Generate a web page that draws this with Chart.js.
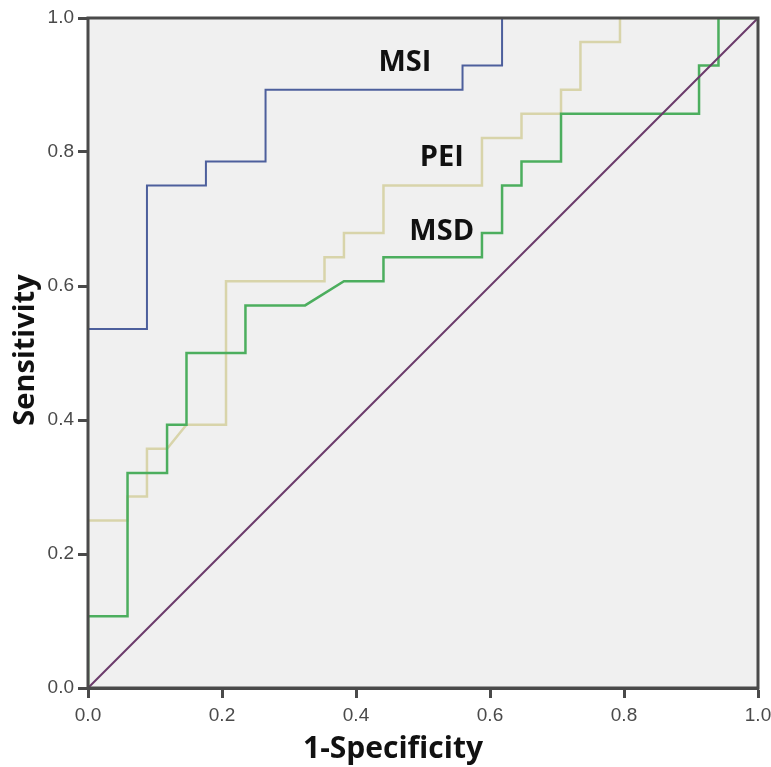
<!DOCTYPE html>
<html>
<head>
<meta charset="utf-8">
<script src="https://cdn.jsdelivr.net/npm/chart.js@4/dist/chart.umd.min.js"></script>
<style>
	html, body { margin: 0; padding: 0; background: #fff; }
	#wrap { width: 771px; height: 767px; }
</style>
</head>
<body>
<div id="wrap"><canvas id="myChart" width="771" height="767"></canvas></div>
<script>
// ROC curve vertices (1-specificity, sensitivity)
const msiX = [0, 0, 0.088, 0.088, 0.176, 0.176, 0.265, 0.265, 0.559, 0.559, 0.618, 0.618, 1];
const msiY = [0, 0.536, 0.536, 0.75, 0.75, 0.786, 0.786, 0.893, 0.893, 0.929, 0.929, 1, 1];

const peiX = [0, 0, 0.059, 0.059, 0.088, 0.088, 0.118, 0.147, 0.206, 0.206, 0.353, 0.353, 0.382, 0.382, 0.441, 0.441, 0.588, 0.588, 0.647, 0.647, 0.706, 0.706, 0.735, 0.735, 0.794, 0.794, 1];
const peiY = [0, 0.25, 0.25, 0.286, 0.286, 0.357, 0.357, 0.393, 0.393, 0.607, 0.607, 0.643, 0.643, 0.679, 0.679, 0.75, 0.75, 0.821, 0.821, 0.857, 0.857, 0.893, 0.893, 0.964, 0.964, 1, 1];

const msdX = [0, 0, 0.059, 0.059, 0.118, 0.118, 0.147, 0.147, 0.235, 0.235, 0.324, 0.382, 0.441, 0.441, 0.588, 0.588, 0.618, 0.618, 0.647, 0.647, 0.706, 0.706, 0.912, 0.912, 0.941, 0.941, 1];
const msdY = [0, 0.107, 0.107, 0.321, 0.321, 0.393, 0.393, 0.5, 0.5, 0.571, 0.571, 0.607, 0.607, 0.643, 0.643, 0.679, 0.679, 0.75, 0.75, 0.786, 0.786, 0.857, 0.857, 0.929, 0.929, 1, 1];

const refX = [0, 1];
const refY = [0, 1];

const tickValues = [0, 0.2, 0.4, 0.6, 0.8, 1.0];

const curveNames = ["MSI", "PEI", "MSD"];
const labelX = [0.473, 0.528, 0.528];
const labelY = [0.933, 0.791, 0.681];

const toPoints = (xs, ys) => xs.map((x, i) => ({ x: x, y: ys[i] }));

const frame = {
	id: "frame",
	beforeDatasetsDraw(chart) {
		const { ctx, chartArea: a } = chart;
		ctx.save();
		ctx.fillStyle = "#f0f0f0";
		ctx.fillRect(a.left, a.top, a.right - a.left, a.bottom - a.top);
		ctx.restore();
	},
	afterDatasetsDraw(chart) {
		const { ctx, chartArea: a, scales } = chart;
		ctx.save();
		ctx.strokeStyle = "#4a4a4a";
		ctx.lineWidth = 3;
		ctx.strokeRect(a.left, a.top, a.right - a.left, a.bottom - a.top);

		// curve names
		ctx.fillStyle = "#111";
		ctx.font = "bold 29px 'Open Sans'";
		ctx.textAlign = "center";
		ctx.textBaseline = "middle";
		curveNames.forEach((name, i) => {
			ctx.fillText(name, scales.x.getPixelForValue(labelX[i]), scales.y.getPixelForValue(labelY[i]));
		});

		// axis titles
		ctx.textBaseline = "alphabetic";
		ctx.font = "bold 30px 'Open Sans'";
		ctx.fillText("1-Specificity", 393, 758);
		ctx.font = "bold 29px 'Open Sans'";
		ctx.translate(34, 350);
		ctx.rotate(-Math.PI / 2);
		ctx.fillText("Sensitivity", 0, 0);
		ctx.restore();
	},
};

const axisStyle = {
	type: "linear",
	min: 0,
	max: 1,
	border: { display: true, color: "#4a4a4a", width: 3 },
	grid: { drawOnChartArea: false, drawTicks: true, tickLength: 10, tickColor: "#4a4a4a", tickWidth: 3 },
	afterBuildTicks: axis => {
		axis.ticks = tickValues.map(v => ({ value: v }));
	},
};

new Chart(document.getElementById("myChart"), {
	type: "scatter",
	data: {
		datasets: [
			{ label: "Reference", data: toPoints(refX, refY), borderColor: "#6b3b6b", borderWidth: 2, order: 0 },
			{ label: "MSI", data: toPoints(msiX, msiY), borderColor: "#4d5f9c", borderWidth: 2, order: 1 },
			{ label: "MSD", data: toPoints(msdX, msdY), borderColor: "#4cae5e", borderWidth: 2.5, order: 2 },
			{ label: "PEI", data: toPoints(peiX, peiY), borderColor: "#d8d4aa", borderWidth: 2.5, order: 3 },
		].map(ds => Object.assign(ds, { showLine: true, pointRadius: 0, fill: false, tension: 0 })),
	},
	options: {
		responsive: false,
		animation: false,
		layout: { padding: { top: 18, right: 13, left: 0, bottom: 0 } },
		plugins: { legend: { display: false }, tooltip: { enabled: false } },
		scales: {
			x: Object.assign({}, axisStyle, {
				ticks: { color: "#4a4a4a", font: { family: "Liberation Sans", size: 19 }, padding: 6, callback: v => v.toFixed(1), maxRotation: 0 },
				afterFit: s => { s.height = 79; s.paddingLeft = 0; s.paddingRight = 0; },
			}),
			y: Object.assign({}, axisStyle, {
				ticks: { color: "#4a4a4a", font: { family: "Liberation Sans", size: 19 }, padding: 4, callback: v => v.toFixed(1) },
				afterFit: s => { s.width = 88; },
			}),
		},
	},
	plugins: [frame],
});
</script>
</body>
</html>
